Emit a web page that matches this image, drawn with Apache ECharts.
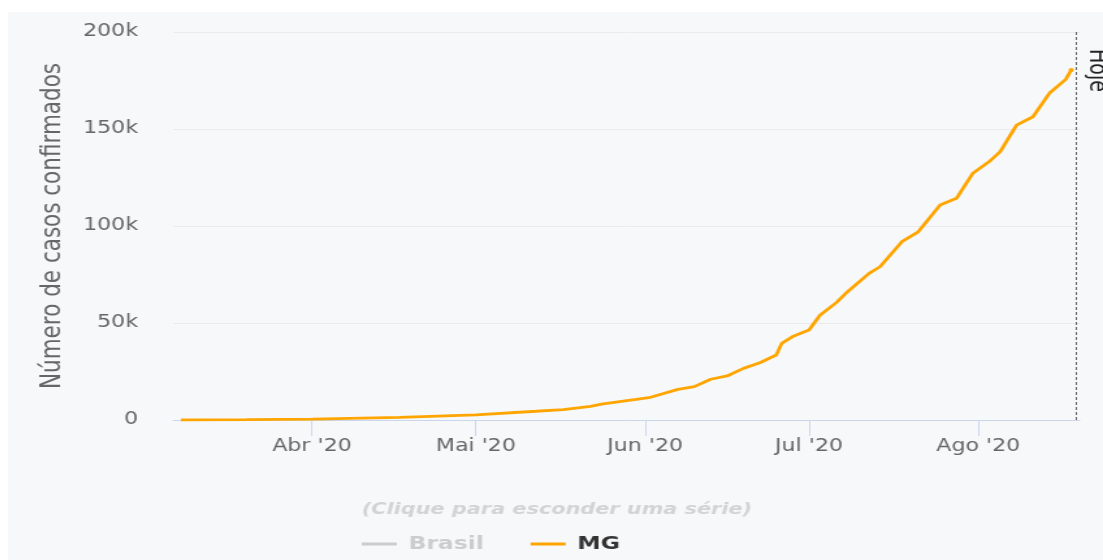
<!DOCTYPE html>
<html>
<head>
<meta charset="utf-8">
<title>Casos confirmados - MG</title>
<script src="https://cdn.jsdelivr.net/npm/echarts@6/dist/echarts.min.js"></script>
<style>
  html, body { margin: 0; padding: 0; background: #fff; }
  #wrap {
    position: absolute; left: 8px; top: 12px;
    width: 1095px; height: 548px;
    background: #f7f8fa; overflow: hidden;
  }
  /* the source picture is stretched sideways, so the chart is too */
  #chart {
    width: 842px; height: 548px;
    transform: scaleX(1.3005); transform-origin: 0 0;
  }
</style>
</head>
<body>
<div id="wrap"><div id="chart"></div></div>
<script>
// MG cumulative confirmed cases
var dates = [
  "2020-03-08", "2020-03-20", "2020-04-01", "2020-04-17", "2020-05-01",
  "2020-05-12", "2020-05-17", "2020-05-22", "2020-05-24", "2020-06-02",
  "2020-06-07", "2020-06-10", "2020-06-13", "2020-06-16", "2020-06-19",
  "2020-06-22", "2020-06-25", "2020-06-26", "2020-06-28", "2020-07-01",
  "2020-07-03", "2020-07-06", "2020-07-08", "2020-07-12", "2020-07-14",
  "2020-07-18", "2020-07-21", "2020-07-25", "2020-07-28", "2020-07-31",
  "2020-08-03", "2020-08-05", "2020-08-08", "2020-08-11", "2020-08-14",
  "2020-08-17", "2020-08-18"
];
var casesMG = [
  0, 150, 500, 1400, 2600,
  4500, 5400, 7000, 8200, 11700,
  15800, 17200, 21000, 22700, 26600,
  29500, 33500, 39500, 43000, 46400,
  54000, 60500, 66000, 75600, 79000,
  91900, 97000, 110800, 114300, 127200,
  133200, 138300, 152000, 156300, 168400,
  175600, 180400
];
var casesBrasil = []; // series is switched off in the legend
var seriesNames = ["Brasil", "MG"];
var monthNames = ["Jan", "Fev", "Mar", "Abr", "Mai", "Jun", "Jul", "Ago", "Set", "Out", "Nov", "Dez"];
var yTicks = [0, 50000, 100000, 150000, 200000];
var today = "2020-08-19";
var xMin = "2020-03-06 14:00";
var xMax = "2020-08-19 13:00";

var font = "DejaVu Sans";

var mgData = [];
for (let i in dates) {
  mgData.push([dates[i], casesMG[i]]);
}

var option = {
  animation: false,
  title: {
    text: "(Clique para esconder uma série)",
    left: 267,
    top: 485,
    textStyle: {
      fontFamily: font,
      fontSize: 16,
      fontStyle: "italic",
      fontWeight: "bold",
      color: "#d3d3d3"
    }
  },
  legend: {
    left: 267,
    top: 518,
    icon: "rect",
    itemWidth: 27,
    itemHeight: 3,
    itemGap: 36,
    inactiveColor: "#cccccc",
    data: seriesNames,
    selected: { Brasil: false },
    textStyle: {
      fontFamily: font,
      fontSize: 18,
      fontWeight: "bold",
      color: "#333333",
      padding: [0, 0, 0, 4]
    }
  },
  grid: {
    left: 127,
    right: 18,
    top: 20,
    bottom: 140
  },
  xAxis: {
    type: "time",
    min: xMin,
    max: xMax,
    splitNumber: 5,
    axisLine: { lineStyle: { color: "#ccd6eb", width: 1 } },
    axisTick: { show: true, length: 16, lineStyle: { color: "#ccd6eb" } },
    splitLine: { show: false },
    axisLabel: {
      margin: 18,
      fontFamily: font,
      fontSize: 17,
      color: "#666666",
      formatter: function (val) {
        var d = new Date(val);
        if (d.getDate() !== 1) return "";
        return monthNames[d.getMonth()] + " '" + String(d.getFullYear()).slice(2);
      }
    }
  },
  yAxis: {
    type: "value",
    min: yTicks[0],
    max: yTicks[yTicks.length - 1],
    interval: yTicks[1] - yTicks[0],
    name: "Número de casos confirmados",
    nameLocation: "middle",
    nameGap: 82,
    nameTextStyle: {
      fontFamily: font,
      fontSize: 21.5,
      color: "#666666"
    },
    axisLine: { show: false },
    axisTick: { show: false },
    splitLine: { lineStyle: { color: "#ebebeb", width: 1 } },
    axisLabel: {
      margin: 27,
      fontFamily: font,
      fontSize: 17,
      color: "#666666",
      formatter: function (v) {
        return v === 0 ? "0" : v / 1000 + "k";
      }
    }
  },
  series: [
    {
      name: "Brasil",
      type: "line",
      color: "#cccccc",
      showSymbol: false,
      data: casesBrasil
    },
    {
      name: "MG",
      type: "line",
      color: "#ffa500",
      symbol: "circle",
      symbolSize: function (val, params) {
        return params.dataIndex === mgData.length - 1 ? 4 : 0;
      },
      lineStyle: { width: 2.8, color: "#ffa500" },
      data: mgData,
      markLine: {
        silent: true,
        symbol: "none",
        lineStyle: { type: [3, 2], color: "#666666", width: 1 },
        label: {
          show: true,
          formatter: "Hoje",
          position: "insideStartTop",
          distance: [17, 6],
          fontFamily: font,
          fontSize: 19,
          color: "#222222"
        },
        data: [
          [
            { coord: [today, yTicks[yTicks.length - 1]] },
            { coord: [today, yTicks[0]] }
          ]
        ]
      }
    }
  ]
};

var chart = echarts.init(document.getElementById("chart"));
chart.setOption(option);
</script>
</body>
</html>
